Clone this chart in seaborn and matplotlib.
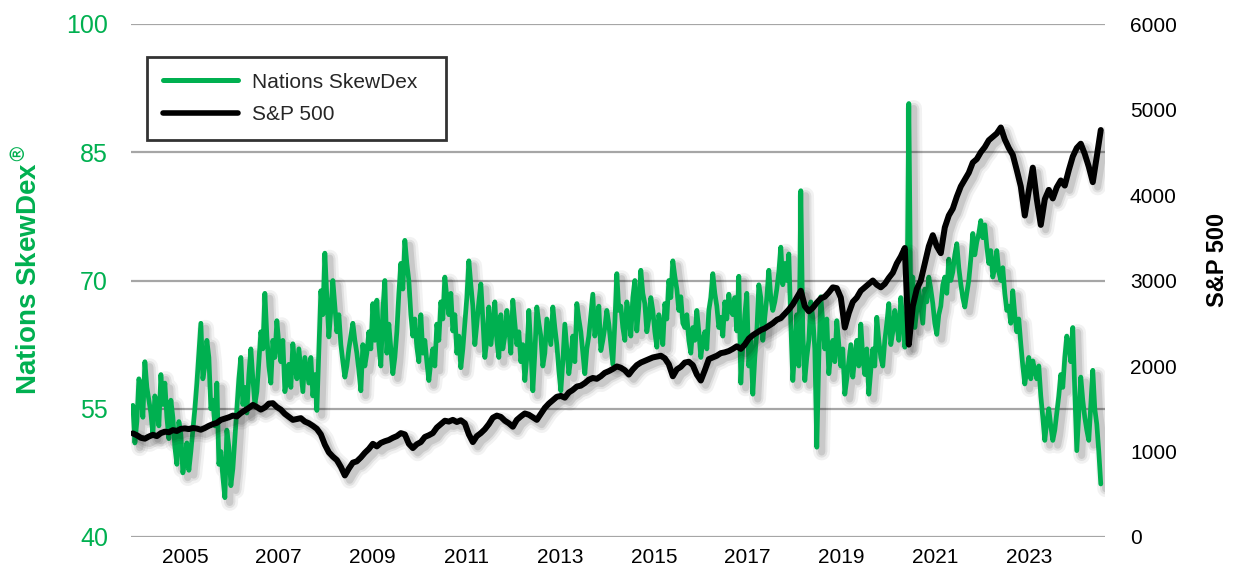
### SkewDex vs S&P 500 ###
import numpy as np
import pandas as pd
import matplotlib
matplotlib.use("Agg")
import matplotlib.pyplot as plt
import matplotlib.patheffects as pe
from matplotlib import font_manager
from matplotlib.lines import Line2D
import seaborn as sns

### 데이터 (evenly spaced in time) ###
skewdex = [
    # 2004 - 2006
    55.4, 51.0, 53.5, 58.5, 57.5, 54.0, 60.5, 57.5, 56.0, 54.5,
    52.0, 56.5, 55.0, 53.0, 59.0, 55.5, 58.0, 54.0, 51.5, 56.0,
    54.0, 50.5, 48.5, 53.5, 52.0, 47.5, 49.0, 51.0, 47.8, 50.0,
    52.5, 55.0, 58.0, 61.5, 65.0, 58.5, 60.0, 63.0, 61.0, 55.0,
    56.0, 53.0, 58.0, 48.5, 50.0, 47.0, 44.6, 52.5, 50.5, 46.0,
    48.0, 51.5, 55.0, 58.5, 61.0, 55.5, 57.5, 54.5, 59.0, 62.0,
    # 2006 - 2009
    58.5, 55.5, 57.0, 60.5, 64.0, 62.0, 68.5, 63.5, 60.0, 58.0,
    63.0, 61.0, 65.3, 62.5, 60.5, 63.0, 57.0, 58.5, 60.2, 57.5,
    62.6, 60.0, 58.5, 62.0, 59.5, 57.0, 61.0, 59.5, 58.0, 61.0,
    56.5, 59.0, 54.8, 62.0, 68.8, 66.0, 73.2, 68.0, 63.4, 66.5,
    70.0, 67.0, 64.0, 66.0, 62.5, 60.5, 58.7, 60.0, 62.0, 63.5,
    65.0, 63.0, 61.5, 59.5, 57.1, 62.5, 60.0, 61.5, 64.0, 62.0,
    67.3, 63.0,
    # 2009 - 2011
    67.7, 62.5, 60.0, 66.5, 70.0, 61.5, 64.9, 62.0, 59.1, 61.0,
    64.0, 68.5, 72.0, 69.0, 74.7, 72.0, 70.0, 66.0, 63.5, 65.5,
    62.2, 60.5, 66.0, 61.5, 63.0, 60.5, 58.3, 60.5, 62.0, 60.0,
    64.9, 63.0, 67.5, 65.5, 70.4, 68.0, 66.0, 68.5, 64.1, 66.0,
    61.5, 63.5, 59.8, 62.0, 65.0, 68.0, 72.3, 69.5, 67.0, 62.5,
    64.9, 67.5, 69.6, 65.5, 61.0, 63.0, 66.9, 62.5, 64.5, 67.5,
    # 2011 - 2014
    63.0, 61.0, 66.0, 62.0, 63.5, 66.5, 64.5, 61.5, 67.7, 65.0,
    62.5, 64.0, 60.5, 62.5, 58.3, 61.0, 66.5, 62.0, 57.1, 61.5,
    66.9, 65.0, 63.5, 60.0, 61.5, 65.5, 64.0, 62.5, 66.9, 64.5,
    62.5, 59.5, 57.1, 60.5, 64.9, 62.0, 59.1, 61.0, 63.5, 60.5,
    67.3, 65.5, 64.0, 61.5, 59.1, 62.0, 63.5, 66.0, 68.4, 63.5,
    65.0, 67.0, 61.8, 63.0, 64.5, 66.5, 64.9, 62.5, 60.2, 65.0,
    70.8, 66.5,
    # 2014 - 2016
    67.0, 64.5, 63.0, 67.5, 66.0, 63.5, 68.0, 70.0, 64.1, 67.0,
    71.2, 68.5, 67.3, 64.0, 65.5, 68.0, 66.5, 64.0, 62.2, 66.0,
    64.5, 62.5, 67.3, 65.5, 70.0, 68.0, 72.3, 70.5, 69.0, 66.5,
    68.1, 65.0, 64.5, 66.0, 63.0, 61.5, 64.5, 63.0, 66.5, 64.0,
    61.0, 63.0, 64.0, 62.0, 66.5, 68.0, 70.8, 68.5, 67.0, 64.5,
    65.7, 63.5, 67.5, 65.5, 68.4, 66.5, 66.0, 68.0, 64.1, 70.5,
    # 2016 - 2019
    58.0, 62.5, 66.0, 68.5, 60.0, 63.0, 56.7, 61.0, 64.0, 69.5,
    68.0, 63.0, 65.7, 68.0, 71.2, 68.0, 66.5, 67.5, 69.0, 71.0,
    73.9, 69.5, 72.0, 70.0, 73.1, 65.0, 58.3, 62.0, 66.0, 60.0,
    80.5, 64.0, 58.3, 61.0, 63.0, 67.5, 65.7, 62.0, 50.5, 61.0,
    68.1, 65.0, 62.0, 65.5, 59.1, 61.5, 63.0, 60.5, 65.3, 62.5,
    60.0, 62.0, 56.7, 58.5, 60.5, 62.5, 58.7, 61.0, 63.0, 60.0,
    64.9, 61.0,
    # 2019 - 2021
    59.0, 62.0, 56.7, 59.5, 62.0, 60.0, 65.7, 63.0, 61.0, 60.0,
    63.0, 65.0, 67.3, 62.5, 64.0, 66.5, 64.9, 63.0, 68.0, 65.5,
    62.2, 64.0, 90.7, 66.0, 70.4, 64.5, 66.5, 69.0, 67.0, 65.0,
    69.0, 67.5, 70.4, 69.0, 67.3, 65.0, 63.7, 66.0, 67.0, 69.5,
    70.4, 68.5, 72.5, 70.0, 71.0, 73.0, 74.3, 71.5, 69.6, 68.0,
    66.9, 68.5, 70.0, 72.5, 75.5, 73.0, 74.5, 75.5, 77.0, 75.0,
    # 2022 - 2024
    76.5, 74.0, 72.0, 73.5, 70.4, 71.5, 73.5, 71.0, 70.0, 71.5,
    68.5, 66.5, 67.0, 65.0, 68.8, 66.0, 64.0, 65.5, 62.6, 60.0,
    57.9, 59.5, 61.0, 58.5, 60.6, 59.5, 58.5, 60.0, 56.5, 54.0,
    51.3, 53.5, 55.0, 53.0, 51.3, 52.5, 54.5, 56.5, 59.0, 57.5,
    61.0, 63.5, 62.5, 60.5, 64.5, 57.0, 50.1, 54.5, 58.7, 56.0,
    54.0, 52.5, 51.3, 55.5, 59.5, 55.0, 53.2, 50.0, 46.2,
]

sp500 = [
    1212, 1190, 1160, 1150, 1175, 1195, 1180, 1215, 1232, 1225,
    1250, 1240, 1265, 1270, 1262, 1275, 1268, 1255, 1275, 1300,
    1320, 1335, 1370, 1385, 1400, 1420, 1410, 1450, 1480, 1510,
    1545, 1520, 1490, 1515, 1560, 1565, 1520, 1490, 1440, 1405,
    1370, 1380, 1390, 1350, 1330, 1300, 1265, 1200, 1080, 990,
    940, 900, 820, 720, 800, 870, 885, 930, 985, 1030, 1090,
    1060, 1100, 1120, 1135, 1160, 1180, 1215, 1200, 1090, 1040,
    1085, 1110, 1170, 1190, 1215, 1280, 1320, 1360, 1350, 1370,
    1345, 1365, 1330, 1200, 1110, 1180, 1215, 1260, 1320, 1395,
    1420, 1405, 1360, 1330, 1290, 1370, 1410, 1445, 1430, 1400,
    1370, 1440, 1510, 1560, 1600, 1640, 1650, 1630, 1690, 1720,
    1760, 1770, 1800, 1840, 1860, 1850, 1880, 1920, 1940, 1965, 1995,
    1980, 1950, 1900, 1960, 2010, 2040, 2060, 2080, 2100, 2110,
    2120, 2090, 2020, 1880, 1960, 1990, 2040, 2050, 2010, 1900,
    1830, 1950, 2080, 2100, 2120, 2150, 2160, 2175, 2200, 2230,
    2200, 2250, 2320, 2360, 2390, 2420, 2440, 2470, 2500, 2540,
    2560, 2610, 2660, 2720, 2800, 2880, 2700, 2640, 2680, 2740,
    2790, 2810, 2860, 2920, 2910, 2800, 2450, 2620, 2750, 2800, 2880,
    2920, 2960, 3000, 2950, 2920, 2960, 3030, 3090, 3200, 3280,
    3380, 2250, 2700, 2900, 3000, 3200, 3400, 3530, 3400, 3320,
    3620, 3760, 3840, 3980, 4100, 4180, 4260, 4380, 4420, 4500,
    4560, 4640, 4680, 4720, 4790, 4650, 4550, 4470, 4290, 4100,
    3760, 4050, 4320, 3950, 3650, 3950, 4060, 3960, 4090, 4170,
    4110, 4290, 4450, 4550, 4600, 4480, 4330, 4150, 4450, 4760,
]

skew_df = pd.DataFrame({'year': np.linspace(2003.89, 2024.53, len(skewdex)),
                        'SkewDex': skewdex})
sp_df = pd.DataFrame({'year': np.linspace(2003.89, 2024.53, len(sp500)),
                      'SP500': sp500})

year_ticks = list(range(2005, 2024, 2))
left_ticks = [40, 55, 70, 85, 100]
right_ticks = [0, 1000, 2000, 3000, 4000, 5000, 6000]

green = '#00B050'

### 스타일 ###
sns.set_theme(style='white')
plt.rcParams['font.family'] = ['Liberation Sans', 'DejaVu Sans']
names = {f.name for f in font_manager.fontManager.ttflist}
narrow = 'Liberation Sans Narrow' if 'Liberation Sans Narrow' in names else None

def shadow():
    return [pe.SimpleLineShadow(offset=(3.5, -3.5), shadow_color='black', alpha=0.05, linewidth=12),
            pe.SimpleLineShadow(offset=(3.5, -3.5), shadow_color='black', alpha=0.07, linewidth=8),
            pe.SimpleLineShadow(offset=(3.5, -3.5), shadow_color='black', alpha=0.10, linewidth=5),
            pe.Normal()]

fig = plt.figure(figsize=(12.47, 5.71), dpi=100)
ax = fig.add_axes([131/1247, 34/571, 974/1247, 513/571])
ax2 = ax.twinx()

sns.lineplot(data=skew_df, x='year', y='SkewDex', ax=ax, color=green, linewidth=3.4,
             path_effects=shadow())
sns.lineplot(data=sp_df, x='year', y='SP500', ax=ax2, color='black', linewidth=4.3,
             path_effects=shadow())

ax.set_xlim(2003.85, 2024.62)
ax.set_ylim(40, 100)
ax2.set_ylim(0, 6000)
ax.set_yticks(left_ticks)
ax2.set_yticks(right_ticks)
ax.set_xticks(year_ticks)
ax.set_xticklabels([str(y) for y in year_ticks])

ax.yaxis.grid(True, color='#a6a6a6', linewidth=1.6)
ax.xaxis.grid(False)
ax2.grid(False)
for a in (ax, ax2):
    for s in a.spines.values():
        s.set_visible(False)

ax.tick_params(axis='y', length=0, pad=16.5, labelsize=18, labelcolor=green)
ax2.tick_params(axis='y', length=0, pad=18, labelsize=15, labelcolor='black')
ax.tick_params(axis='x', length=0, pad=8, labelsize=18 if narrow else 15, labelcolor='black')
if narrow:
    for lab in ax.get_xticklabels():
        lab.set_family(narrow)

ax.set_xlabel('')
ax.set_ylabel('')
ax2.set_ylabel('')

fig.text(28/1247, 1 - 270/571, 'Nations SkewDex$^{\\circledR}$', rotation=90,
         ha='center', va='center', color=green, fontsize=20, fontweight='bold')
fig.text(1217/1247, 1 - 260/571, 'S&P 500', rotation=90,
         ha='center', va='center', color='black', fontsize=17, fontweight='bold')

### 범례 ###
handles = [Line2D([], [], color=green, linewidth=3.6),
           Line2D([], [], color='black', linewidth=4.0)]
leg = fig.legend(handles, ['Nations SkewDex', 'S&P 500'], loc='upper left',
                 bbox_to_anchor=(147/1247, 1 - 57/571, 299/1247, 0), mode='expand',
                 borderaxespad=0, fontsize=15, frameon=True, fancybox=False,
                 handlelength=3.6, handletextpad=0.7, labelspacing=0.65, borderpad=0.75)
leg.get_frame().set_edgecolor('black')
leg.get_frame().set_linewidth(2)
leg.get_frame().set_facecolor('white')

fig.savefig('out.png', dpi=100)
